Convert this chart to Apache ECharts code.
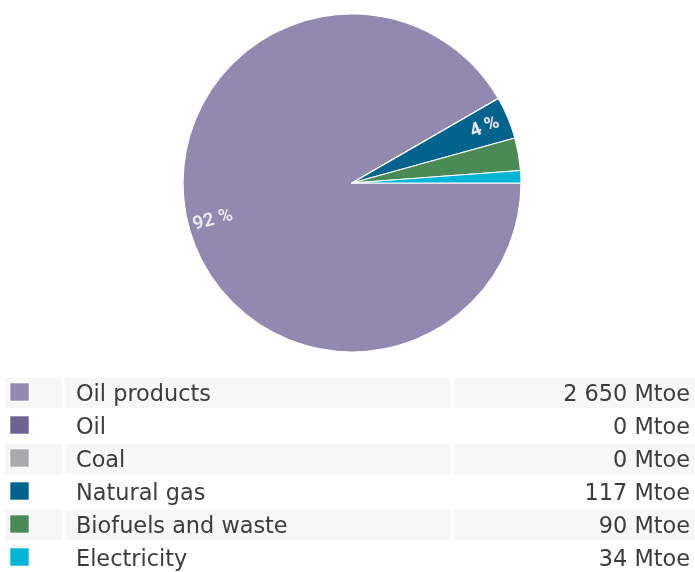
<!DOCTYPE html>
<html>
<head>
<meta charset="utf-8">
<script src="https://cdn.jsdelivr.net/npm/echarts@6/dist/echarts.min.js"></script>
<style>
html,body{margin:0;padding:0;background:#fff;}
#chart{width:695px;height:572px;}
</style>
</head>
<body>
<div id="chart"></div>
<script>
var categories = ['Oil products', 'Oil', 'Coal', 'Natural gas', 'Biofuels and waste', 'Electricity'];
var values = [2650, 0, 0, 117, 90, 34];
var valueLabels = ['2 650 Mtoe', '0 Mtoe', '0 Mtoe', '117 Mtoe', '90 Mtoe', '34 Mtoe'];
var colors = ['#9189b0', '#6c6390', '#a9a9ab', '#00638c', '#4a8a55', '#00b5d6'];

var pieData = categories.map(function (c, i) {
  return { name: c, value: values[i], itemStyle: { color: colors[i] } };
});
var labelData = categories.map(function (c, i) {
  return { name: c, value: values[i] };
});

// legend table
var graphics = [];
var rowTop = 378, rowPitch = 33, rowH = 30;
categories.forEach(function (c, i) {
  var y = rowTop + i * rowPitch;
  if (i % 2 === 0) {
    graphics.push({ type: 'rect', silent: true, shape: { x: 5, y: y, width: 57, height: rowH }, style: { fill: '#f7f7f7' } });
    graphics.push({ type: 'rect', silent: true, shape: { x: 65, y: y, width: 386, height: rowH }, style: { fill: '#f7f7f7' } });
    graphics.push({ type: 'rect', silent: true, shape: { x: 454, y: y, width: 241, height: rowH }, style: { fill: '#f7f7f7' } });
  }
  graphics.push({ type: 'rect', silent: true, shape: { x: 10, y: y + 5, width: 19, height: 18 }, style: { fill: colors[i], stroke: 'rgba(255,255,255,0.6)', lineWidth: 1 } });
  graphics.push({ type: 'text', silent: true, x: 76, y: y + 17, style: { text: c, fill: '#3c3c3c', font: '22.4px "DejaVu Sans", Verdana, sans-serif', textVerticalAlign: 'middle', textAlign: 'left' } });
  graphics.push({ type: 'text', silent: true, x: 690, y: y + 17, style: { text: valueLabels[i], fill: '#3c3c3c', font: '22.4px "DejaVu Sans", Verdana, sans-serif', textVerticalAlign: 'middle', textAlign: 'right' } });
});

var chart = echarts.init(document.getElementById('chart'), null, { renderer: 'canvas' });
chart.setOption({
  animation: false,
  backgroundColor: '#ffffff',
  series: [
    {
      type: 'pie',
      center: [352, 183],
      radius: [0, 169],
      startAngle: 0,
      clockwise: true,
      silent: true,
      label: { show: false },
      labelLine: { show: false },
      itemStyle: { borderColor: '#ffffff', borderWidth: 1.2 },
      emphasis: { disabled: true },
      data: pieData
    },
    {
      type: 'pie',
      center: [352, 183],
      radius: [118, 164],
      startAngle: 0,
      clockwise: true,
      silent: true,
      itemStyle: { color: 'rgba(0,0,0,0)', borderWidth: 0 },
      labelLine: { show: false },
      emphasis: { disabled: true },
      label: {
        show: true,
        position: 'inside',
        rotate: 'radial',
        color: '#e8e6ee',
        fontSize: 19,
        fontWeight: 'bold',
        fontFamily: 'Roboto, "Open Sans", sans-serif',
        textBorderColor: 'rgba(120,120,140,0.25)',
        textBorderWidth: 1,
        formatter: function (p) {
          return p.percent >= 3.5 ? Math.round(p.percent) + ' %' : '';
        }
      },
      data: labelData
    }
  ],
  graphic: graphics
});
</script>
</body>
</html>
